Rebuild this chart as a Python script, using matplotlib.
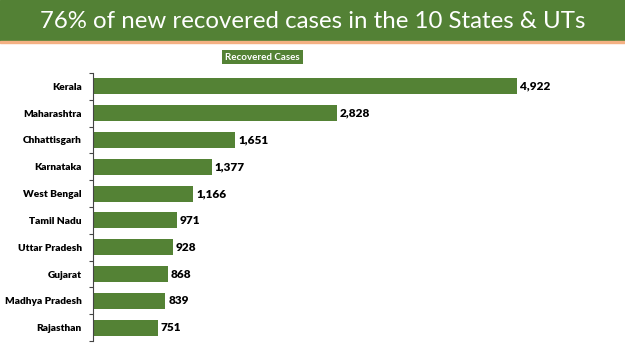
import matplotlib
matplotlib.use("Agg")
import matplotlib.pyplot as plt

states = ["Kerala", "Maharashtra", "Chhattisgarh", "Karnataka", "West Bengal",
          "Tamil Nadu", "Uttar Pradesh", "Gujarat", "Madhya Pradesh", "Rajasthan"]
recovered = [4922, 2828, 1651, 1377, 1166, 971, 928, 868, 839, 751]

green = "#548235"

fig = plt.figure(figsize=(6.25, 3.51), dpi=100)

# title banner
fig.patches.append(plt.Rectangle((0, 1 - 41 / 351), 1, 41 / 351, transform=fig.transFigure,
                                 color="#538135", zorder=0))
fig.patches.append(plt.Rectangle((0, 1 - 43 / 351), 1, 2 / 351, transform=fig.transFigure,
                                 color="#F4B183", zorder=0))
fig.text(0.5, 1 - 21 / 351, "76% of new recovered cases in the 10 States & UTs",
         ha="center", va="center", color="white", fontsize=17.3, family="Lato")

fig.text(0.42, 1 - 57 / 351, "Recovered Cases", ha="center", va="center",
         color="white", fontsize=7, fontweight="bold", family="Lato",
         bbox=dict(boxstyle="square,pad=0.3", fc=green, ec="none"))

ax = fig.add_axes([93 / 625, 1 - 341 / 351, 507 / 625, 268 / 351])
y = list(range(len(states)))
ax.barh(y, recovered, height=0.6, color=green)
ax.set_ylim(len(states) - 0.5, -0.5)
ax.set_xlim(0, 4922 * 507 / 424)

for yi, v in zip(y, recovered):
    ax.text(v + 35, yi, f"{v:,}", va="center", ha="left", fontsize=8.5,
            fontweight="heavy", family="Lato")

ax.set_yticks(y)
ax.set_yticklabels(states, fontsize=7.3, fontweight="heavy", family="Lato")
ax.set_yticks([i - 0.5 for i in range(len(states) + 1)], minor=True)
ax.tick_params(axis="y", which="major", length=0, pad=8)
ax.tick_params(axis="y", which="minor", length=3, width=0.8, color="#444444")
ax.set_xticks([])
for s in ["top", "right", "bottom"]:
    ax.spines[s].set_visible(False)
ax.spines["left"].set_color("#444444")
ax.spines["left"].set_linewidth(0.8)

fig.savefig("out.png", dpi=100)
